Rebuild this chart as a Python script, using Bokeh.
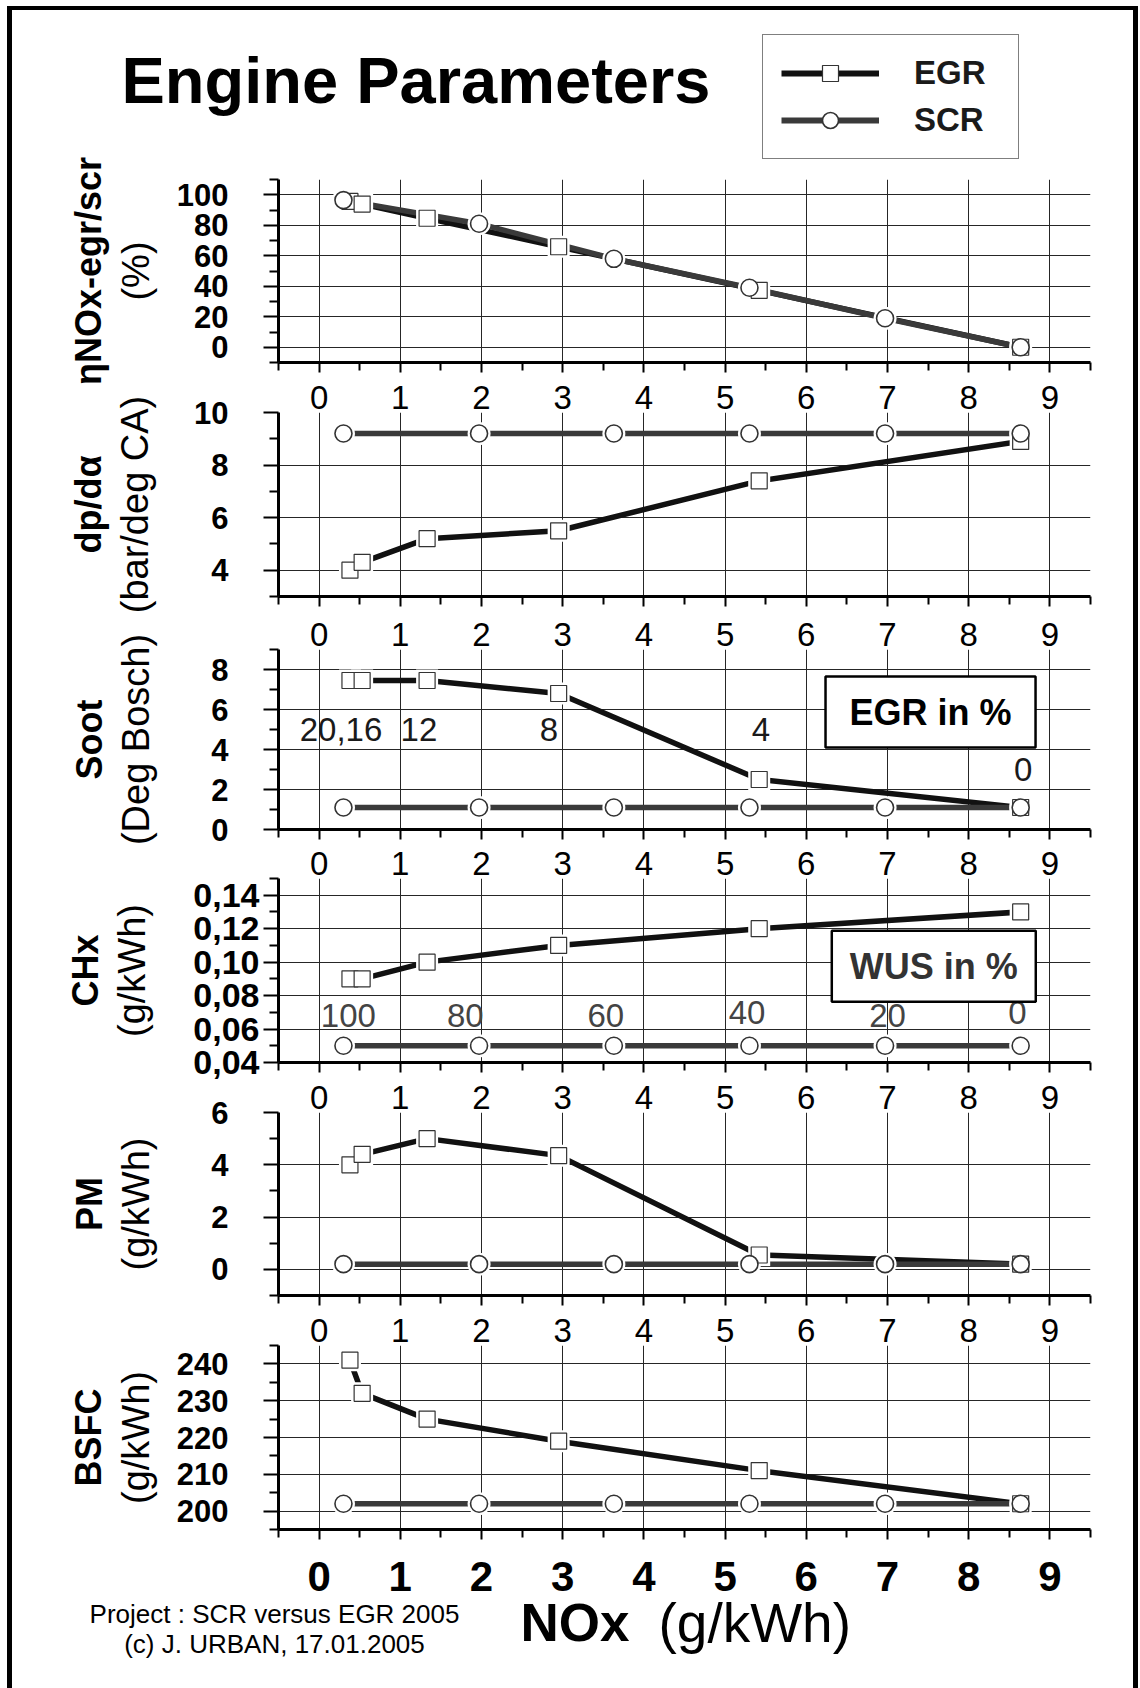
from bokeh.plotting import figure
from bokeh.models import (Range1d, FixedTicker, LinearAxis, Legend, LegendItem,
                          Label, CustomJSTickFormatter)
from bokeh.layouts import column
from bokeh.embed import file_html
from bokeh.resources import INLINE
from bokeh.core.properties import value
from bokeh.core.validation import silence
from bokeh.core.validation.warnings import MISSING_RENDERERS

silence(MISSING_RENDERERS, True)

FONT = "Liberation Sans"
EGR_COLOR = "#111111"
SCR_COLOR = "#3a3a3a"
GRID_COLOR = "#262626"

# ---------------- data ----------------
nox_egr = [0.38, 0.53, 1.33, 2.95, 5.42, 8.64]   # NOx (g/kWh) at EGR 20,16,12,8,4,0 %
nox_scr = [0.30, 1.97, 3.63, 5.30, 6.97, 8.64]   # NOx (g/kWh) at WUS 100,80,60,40,20,0 %

eta_egr = [95.6, 93.9, 84.6, 65.9, 37.3, 0.0]
eta_scr = [96.5, 81.0, 58.0, 39.0, 19.0, 0.0]
dpda_egr = [4.0, 4.3, 5.2, 5.5, 7.4, 8.9]
dpda_scr = [9.2, 9.2, 9.2, 9.2, 9.2, 9.2]
soot_egr = [7.45, 7.45, 7.45, 6.8, 2.5, 1.1]
soot_scr = [1.1, 1.1, 1.1, 1.1, 1.1, 1.1]
chx_egr = [0.09, 0.09, 0.10, 0.11, 0.12, 0.13]
chx_scr = [0.05, 0.05, 0.05, 0.05, 0.05, 0.05]
pm_egr = [4.0, 4.4, 5.0, 4.35, 0.55, 0.2]
pm_scr = [0.2, 0.2, 0.2, 0.2, 0.2, 0.2]
bsfc_egr = [241, 232, 225, 219, 211, 202]
bsfc_scr = [202, 202, 202, 202, 202, 202]

x_ticks = [0, 1, 2, 3, 4, 5, 6, 7, 8, 9]
x_minor = [-0.5, 0.5, 1.5, 2.5, 3.5, 4.5, 5.5, 6.5, 7.5, 8.5, 9.5]

egr_labels = ["20,16", "12", "8", "4", "0"]
egr_label_x = [0.27, 1.23, 2.83, 5.44, 8.67]
egr_label_y = [5.0, 5.0, 5.0, 5.0, 3.0]
wus_labels = ["100", "80", "60", "40", "20", "0"]
wus_label_x = [0.36, 1.80, 3.53, 5.27, 7.00, 8.60]
wus_label_y = [0.068, 0.068, 0.068, 0.070, 0.068, 0.070]

ylabels_bold = ["ηNOx-egr/scr", "dp/dα", "Soot", "CHx", "PM", "BSFC"]
ylabels_unit = ["(%)", "(bar/deg CA)", "(Deg Bosch)", "(g/kWh)", "(g/kWh)", "(g/kWh)"]

# ---------------- layout (page pixels) ----------------
INNER_W = 1121          # content width inside the black frame (x 12 .. 1133)
CONTENT_X0 = 12
LEFT = 266              # panel frames start at page x 278
RIGHT = 43              # panel frames end at page x 1090
CONTENT_TOP = 10
HDR_H = 158
FTR_TOP = 1580

panels = [
    dict(egr=eta_egr, scr=eta_scr, yr=(-10, 110), major=[0, 20, 40, 60, 80, 100],
         minor=[-10, 10, 30, 50, 70, 90, 110], grid=[0, 20, 40, 60, 80, 100],
         top=179, H=183, T=25, B=24, std_unit=17, std_bold=3),
    dict(egr=dpda_egr, scr=dpda_scr, yr=(3, 10), major=[4, 6, 8, 10],
         minor=[3, 5, 7, 9], grid=[4, 6, 8],
         top=412, H=184, T=50, B=22, std_unit=35, std_bold=3),
    dict(egr=soot_egr, scr=soot_scr, yr=(0, 9), major=[0, 2, 4, 6, 8],
         minor=[1, 3, 5, 7, 9], grid=[2, 4, 6, 8],
         top=649, H=180, T=50, B=22, std_unit=51, std_bold=3),
    dict(egr=chx_egr, scr=chx_scr, yr=(0.04, 0.15), major=[0.04, 0.06, 0.08, 0.10, 0.12, 0.14],
         minor=[0.05, 0.07, 0.09, 0.11, 0.13, 0.15], grid=[0.06, 0.08, 0.10, 0.12, 0.14],
         top=878, H=184, T=50, B=22, std_unit=37, std_bold=3, comma=True, tick_std=4,
         tick_size="34px"),
    dict(egr=pm_egr, scr=pm_scr, yr=(-1, 6), major=[0, 2, 4, 6],
         minor=[-1, 1, 3, 5], grid=[0, 2, 4],
         top=1112, H=183, T=50, B=22, std_unit=51, std_bold=3),
    dict(egr=bsfc_egr, scr=bsfc_scr, yr=(195, 245), major=[200, 210, 220, 230, 240],
         minor=[195, 205, 215, 225, 235, 245], grid=[200, 210, 220, 230, 240],
         top=1345, H=184, T=50, B=82, std_unit=17, std_bold=3),
]


def make_panel(i, spec):
    T, H, B = spec["T"], spec["H"], spec["B"]
    p = figure(width=INNER_W, height=T + H + B,
               x_range=Range1d(-0.5, 9.5), y_range=Range1d(*spec["yr"]),
               min_border_left=LEFT, min_border_right=RIGHT,
               min_border_top=T, min_border_bottom=B,
               toolbar_location=None, output_backend="svg",
               outline_line_color=None, border_fill_alpha=0.0)
    p.title = None

    p.xgrid.ticker = FixedTicker(ticks=x_ticks)
    p.ygrid.ticker = FixedTicker(ticks=spec["grid"])
    for g in (p.xgrid[0], p.ygrid[0]):
        g.grid_line_color = GRID_COLOR
        g.grid_line_width = 1

    yax = p.yaxis[0]
    yax.ticker = FixedTicker(ticks=spec["major"], minor_ticks=spec["minor"])
    yax.axis_line_width = 3
    yax.axis_line_color = "black"
    yax.major_tick_out = 15
    yax.major_tick_in = 0
    yax.minor_tick_out = 9
    yax.minor_tick_in = 0
    yax.major_tick_line_width = 2
    yax.minor_tick_line_width = 2
    yax.major_label_text_font = FONT
    yax.major_label_text_font_style = "bold"
    yax.major_label_text_font_size = spec.get("tick_size", "31px")
    yax.major_label_text_color = "black"
    yax.major_label_standoff = spec.get("tick_std", 35)
    if spec.get("comma"):
        yax.formatter = CustomJSTickFormatter(code="return tick.toFixed(2).replace('.', ',');")
    yax.axis_label = ylabels_unit[i]
    yax.axis_label_text_font = FONT
    yax.axis_label_text_font_style = "normal"
    yax.axis_label_text_font_size = "38px"
    yax.axis_label_text_color = "black"
    yax.axis_label_standoff = spec["std_unit"]

    ax2 = LinearAxis(ticker=FixedTicker(ticks=[]), axis_line_color=None,
                     major_tick_out=0, major_tick_in=0, minor_tick_out=0, minor_tick_in=0,
                     major_tick_line_color=None, minor_tick_line_color=None,
                     major_label_text_font_size="1px", major_label_text_color=None,
                     major_label_standoff=0,
                     axis_label=ylabels_bold[i], axis_label_text_font=FONT,
                     axis_label_text_font_style="bold", axis_label_text_font_size="36px",
                     axis_label_text_color="black", axis_label_standoff=spec["std_bold"])
    p.add_layout(ax2, "left")

    xax = p.xaxis[0]
    xax.ticker = FixedTicker(ticks=x_ticks, minor_ticks=x_minor)
    xax.axis_line_width = 3
    xax.axis_line_color = "black"
    xax.major_tick_out = 10
    xax.major_tick_in = 0
    xax.minor_tick_out = 8
    xax.minor_tick_in = 0
    xax.major_tick_line_width = 2
    xax.minor_tick_line_width = 2
    if i == len(panels) - 1:
        xax.major_label_text_font = FONT
        xax.major_label_text_font_style = "bold"
        xax.major_label_text_font_size = "42px"
        xax.major_label_text_color = "black"
        xax.major_label_standoff = 22
    else:
        xax.major_label_text_font_size = "1px"
        xax.major_label_text_color = None
        xax.major_label_standoff = 0

    if i > 0:
        top = LinearAxis(ticker=FixedTicker(ticks=x_ticks), axis_line_color=None,
                         major_tick_out=0, major_tick_in=0, minor_tick_out=0, minor_tick_in=0,
                         major_tick_line_color=None, minor_tick_line_color=None,
                         major_label_text_font=FONT, major_label_text_font_size="33px",
                         major_label_text_color="black", major_label_standoff=4)
        p.add_layout(top, "above")

    p.line(nox_egr, spec["egr"], line_color=EGR_COLOR, line_width=5.5)
    p.line(nox_scr, spec["scr"], line_color=SCR_COLOR, line_width=5.5)
    p.scatter(nox_egr, spec["egr"], marker="square", size=22, fill_color="white", line_color=None)
    p.scatter(nox_scr, spec["scr"], marker="circle", size=23, fill_color="white", line_color=None)
    p.scatter(nox_egr, spec["egr"], marker="square", size=16, fill_color="white",
              line_color="#333333", line_width=1.2)
    p.scatter(nox_scr, spec["scr"], marker="circle", size=17, fill_color="white",
              line_color="#333333", line_width=1.6)
    return p


figs = [make_panel(i, s) for i, s in enumerate(panels)]

soot = figs[2]
soot.text(x=egr_label_x, y=egr_label_y, text=egr_labels, text_font=value(FONT),
          text_font_size="33px", text_align="center", text_baseline="middle",
          text_color="#1a1a1a")
soot.add_layout(Label(x=7.53, y=5.87, text="EGR in %", text_font=FONT, text_font_style="bold",
                      text_font_size="36px", text_align="center", text_baseline="middle",
                      text_color="black", background_fill_color="white",
                      border_line_color="black", border_line_width=2.5, padding=(24, 15)))

chx = figs[3]
chx.text(x=wus_label_x, y=wus_label_y, text=wus_labels, text_font=value(FONT),
         text_font_size="33px", text_align="center", text_baseline="middle",
         text_color="#444444")
chx.add_layout(Label(x=7.57, y=0.0975, text="WUS in %", text_font=FONT, text_font_style="bold",
                     text_font_size="36px", text_align="center", text_baseline="middle",
                     text_color="#333333", background_fill_color="white",
                     border_line_color="black", border_line_width=2.5, padding=(18, 15)))

# ---------------- header (title + legend) ----------------
hdr = figure(width=INNER_W, height=HDR_H,
             x_range=Range1d(CONTENT_X0, CONTENT_X0 + INNER_W),
             y_range=Range1d(CONTENT_TOP + HDR_H, CONTENT_TOP), min_border=0,
             toolbar_location=None, output_backend="svg", outline_line_color=None,
             x_axis_location=None, y_axis_location=None)
hdr.title = None
hdr.grid.visible = False
hdr.add_layout(Label(x=121, y=80, text="Engine Parameters", text_font=FONT,
                     text_font_style="bold", text_font_size="65px",
                     text_baseline="middle", text_color="black"))
# legend samples use the EGR / SCR series (hidden here; they are drawn in the panels)
l1 = hdr.line(nox_egr, eta_egr, line_color=EGR_COLOR, line_width=6, visible=False)
m1 = hdr.scatter(nox_egr, eta_egr, marker="square", size=16, fill_color="white",
                 line_color="#333333", line_width=1.2, visible=False)
l2 = hdr.line(nox_scr, eta_scr, line_color=SCR_COLOR, line_width=6, visible=False)
m2 = hdr.scatter(nox_scr, eta_scr, marker="circle", size=17, fill_color="white",
                 line_color="#333333", line_width=1.6, visible=False)
legend = Legend(items=[LegendItem(label="EGR", renderers=[l1, m1]),
                       LegendItem(label="SCR", renderers=[l2, m2])],
                location=(762 - CONTENT_X0, 9), orientation="vertical",
                border_line_color="black", border_line_width=1.5,
                background_fill_color="white", background_fill_alpha=1.0,
                padding=18, spacing=7, glyph_width=98, glyph_height=40,
                label_standoff=35, label_width=86, margin=0,
                label_text_font=FONT, label_text_font_style="bold",
                label_text_font_size="33px", label_text_color="#1a1a1a")
hdr.add_layout(legend)

# ---------------- vertical stacking with overlapping transparent borders ----------------
prev_bottom = CONTENT_TOP + HDR_H
for spec, f in zip(panels, figs):
    canvas_top = spec["top"] - spec["T"]
    overlap = prev_bottom - canvas_top
    if overlap != 0:
        f.styles = {"margin-top": f"{-overlap}px"}
    prev_bottom = spec["top"] + spec["H"] + spec["B"]

FTR_H = 1688 - FTR_TOP
ftr_overlap = prev_bottom - FTR_TOP
ftr = figure(width=INNER_W, height=FTR_H,
             x_range=Range1d(CONTENT_X0, CONTENT_X0 + INNER_W),
             y_range=Range1d(FTR_TOP + FTR_H, FTR_TOP), min_border=0,
             toolbar_location=None, output_backend="svg", outline_line_color=None,
             x_axis_location=None, y_axis_location=None,
             background_fill_alpha=0.0, border_fill_alpha=0.0)
ftr.title = None
ftr.grid.visible = False
ftr.add_layout(Label(x=520, y=1622, text="NOx", text_font=FONT, text_font_style="bold",
                     text_font_size="53px", text_baseline="middle", text_color="black"))
ftr.add_layout(Label(x=658, y=1622, text="(g/kWh)", text_font=FONT,
                     text_font_size="55px", text_baseline="middle", text_color="black"))
ftr.add_layout(Label(x=274, y=1613, text="Project : SCR versus EGR 2005", text_font=FONT,
                     text_font_size="26px", text_align="center", text_baseline="middle",
                     text_color="black"))
ftr.add_layout(Label(x=274, y=1643, text="(c) J. URBAN, 17.01.2005", text_font=FONT,
                     text_font_size="26px", text_align="center", text_baseline="middle",
                     text_color="black"))

# header / footer wrapped in their own columns so that they keep a full-width frame
ftr_box = column(ftr, spacing=0, styles={"margin-top": f"{-ftr_overlap}px"})
root = column(column(hdr, spacing=0), *figs, ftr_box,
              spacing=0, margin=(6, 0, 0, 7),
              styles={"border-left": "5px solid black", "border-right": "5px solid black",
                      "border-top": "4px solid black", "box-sizing": "content-box"})

open("out.html", "w").write(file_html(root, INLINE))
